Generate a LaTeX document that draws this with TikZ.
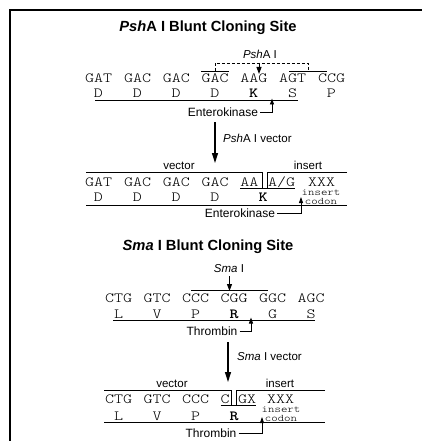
\documentclass[tikz,border=0pt]{standalone}
\usepackage{fontspec}
\setmainfont{Liberation Sans}
\newfontfamily\seqfont[FakeStretch=1.225]{lmmonolt10-regular.otf}
\newfontfamily\seqbold[FakeStretch=1.225]{lmmonolt10-bold.otf}
\usetikzlibrary{arrows.meta}

\begin{document}
\begin{tikzpicture}[x=1pt, y=-1pt,
  heading/.style={font=\fontsize{14.7}{14.7}\selectfont\bfseries, inner sep=0, anchor=base},
  tag/.style={font=\fontsize{11.5}{11.5}\selectfont, inner sep=0, anchor=base},
  codon/.style={font=\seqfont\fontsize{14}{14}\selectfont, inner sep=0, anchor=base west},
  amino/.style={font=\seqfont\fontsize{14}{14}\selectfont, inner sep=0, anchor=base},
  aabold/.style={amino, font=\seqbold\fontsize{14}{14}\selectfont},
  codonnote/.style={font=\seqfont\fontsize{10}{10}\selectfont, inner sep=0, anchor=base},
  protease/.style={font=\fontsize{12}{12}\selectfont, inner sep=2pt},
  seqline/.style={line width=0.8pt},
  cutarrow/.style={line width=1pt, -{Triangle[length=7pt,width=5pt]}},
  sitearrow/.style={line width=0.8pt, -{Triangle[length=6pt,width=4pt]}},
  bigarrow/.style={line width=1.3pt, -{Triangle[length=10pt,width=6pt]}}]
  \useasboundingbox (0,0) rectangle (421,441);
  \draw[line width=2pt] (10,445) -- (10,10) -- (425,10);

  % PshA I site
  \node[heading] (pshtitle) at (208,32) {{\itshape Psh}A I Blunt Cloning Site};
  \node[tag] (pshsite) at (260,59) {{\itshape Psh}A I};
  \node[codon] (p1) at (85,83) {GAT};
  \node[codon] (p2) at (123.8,83) {GAC};
  \node[codon] (p3) at (162.6,83) {GAC};
  \node[codon] (p4) at (201.4,83) {GAC};
  \node[codon] (p5) at (240.2,83) {AAG};
  \node[codon] (p6) at (279,83) {AGT};
  \node[codon] (p7) at (317.8,83) {CCG};
  \node[amino] (pa1) at (98.5,98) {D};
  \node[amino] (pa2) at (137.3,98) {D};
  \node[amino] (pa3) at (176.1,98) {D};
  \node[amino] (pa4) at (214.9,98) {D};
  \node[aabold] (pa5) at (253.7,98) {K};
  \node[amino] (pa6) at (292.5,98) {S};
  \node[amino] (pa7) at (331.3,98) {P};
  \draw[seqline] (p4.west |- 0,71) -- (p4.east |- 0,71);
  \draw[seqline] (289,71) -- (326.8,71);
  \draw[seqline, dashed, dash pattern=on 3pt off 2pt]
    (214.9,71) -- (214.9,63) -- (307.9,63) -- (307.9,71);
  \coordinate (pshcut) at (259,63);
  \coordinate (pshcutend) at (259,74);
  \draw[cutarrow] (pshcut) -- (pshcutend);
  \draw[seqline] (95,100.5) -- (298,100.5);
  \node[protease] (ek1) at (223,112) {Enterokinase};
  \coordinate (ek1tip) at (272,98.5);
  \draw[sitearrow] (ek1.east) -| (ek1tip);

  \coordinate (pshfrom) at (215,122);
  \coordinate (pshto) at (215,163);
  \draw[bigarrow] (pshfrom) -- (pshto);
  \node[tag, anchor=west] (pshvec) at (223,138) {{\itshape Psh}A I vector};

  % PshA I vector with insert
  \node[tag] (vec1) at (179,169) {vector};
  \node[tag] (ins1) at (308,169) {insert};
  \draw[seqline] (86,172) -- (262,172) -- (262,188.5);
  \draw[seqline] (347,172) -- (267,172) -- (267,188.5);
  \node[codon] (q1) at (85,186) {GAT};
  \node[codon] (q2) at (123.8,186) {GAC};
  \node[codon] (q3) at (162.6,186) {GAC};
  \node[codon] (q4) at (201.4,186) {GAC};
  \node[codon] (q5) at (240.2,186) {AA};
  \node[codon] (q6) at (268,186) {A/G};
  \node[codon] (q7) at (307.8,186) {XXX};
  \draw[seqline] (q5.west |- 0,188.5) -- (q6.east |- 0,188.5);
  \node[amino] (qa1) at (98.5,201) {D};
  \node[amino] (qa2) at (137.3,201) {D};
  \node[amino] (qa3) at (176.1,201) {D};
  \node[amino] (qa4) at (214.9,201) {D};
  \node[aabold] (qa5) at (263,201) {K};
  \node[codonnote] (qn1) at (321,195.5) {insert};
  \node[codonnote] (qn2) at (321,204.3) {codon};
  \draw[seqline] (86,205.5) -- (347,205.5);
  \node[protease] (ek2) at (240,213) {Enterokinase};
  \coordinate (ek2tip) at (301,197);
  \draw[sitearrow] (ek2.east) -| (ek2tip);

  % Sma I site
  \node[heading] (smatitle) at (208,250) {{\itshape Sma} I Blunt Cloning Site};
  \node[tag] (smasite) at (229,272) {{\itshape Sma} I};
  \coordinate (smacut) at (229.5,276);
  \coordinate (smacutend) at (229.5,291);
  \draw[cutarrow] (smacut) -- (smacutend);
  \node[codon] (s1) at (105,302) {CTG};
  \node[codon] (s2) at (143.5,302) {GTC};
  \node[codon] (s3) at (182,302) {CCC};
  \node[codon] (s4) at (220.5,302) {CGG};
  \node[codon] (s5) at (259,302) {GGC};
  \node[codon] (s6) at (297.5,302) {AGC};
  \draw[seqline] (191,290) -- (268,290);
  \node[amino] (sa1) at (118.5,318.5) {L};
  \node[amino] (sa2) at (157,318.5) {V};
  \node[amino] (sa3) at (195.5,318.5) {P};
  \node[aabold] (sa4) at (234,318.5) {R};
  \node[amino] (sa5) at (272.5,318.5) {G};
  \node[amino] (sa6) at (311,318.5) {S};
  \draw[seqline] (113,320.5) -- (315,320.5);
  \node[protease] (thr1) at (212,331) {Thrombin};
  \coordinate (thr1tip) at (251,317.5);
  \draw[sitearrow] (thr1.east) -| (thr1tip);

  \coordinate (smafrom) at (228,342);
  \coordinate (smato) at (228,382);
  \draw[bigarrow] (smafrom) -- (smato);
  \node[tag, anchor=west] (smavec) at (237,357) {{\itshape Sma} I vector};

  % Sma I vector with insert
  \node[tag] (vec2) at (172,387) {vector};
  \node[tag] (ins2) at (280,387) {insert};
  \draw[seqline] (104,390) -- (231,390) -- (231,405.5);
  \draw[seqline] (325,390) -- (236,390) -- (236,405.5);
  \node[codon] (t1) at (105,403) {CTG};
  \node[codon] (t2) at (143.5,403) {GTC};
  \node[codon] (t3) at (182,403) {CCC};
  \node[codon] (t4) at (220.5,403) {C};
  \node[codon] (t5) at (238,403) {GX};
  \node[codon] (t6) at (267,403) {XXX};
  \draw[seqline] (t4.west |- 0,405.5) -- (t5.east |- 0,405.5);
  \node[amino] (ta1) at (118.5,420) {L};
  \node[amino] (ta2) at (157,420) {V};
  \node[amino] (ta3) at (195.5,420) {P};
  \node[aabold] (ta4) at (234,420) {R};
  \node[codonnote] (tn1) at (281,412.5) {insert};
  \node[codonnote] (tn2) at (281,421.5) {codon};
  \draw[seqline] (104,422.5) -- (325,422.5);
  \node[protease] (thr2) at (211,433) {Thrombin};
  \coordinate (thr2tip) at (262,417);
  \draw[sitearrow] (thr2.east) -| (thr2tip);
\end{tikzpicture}
\end{document}
